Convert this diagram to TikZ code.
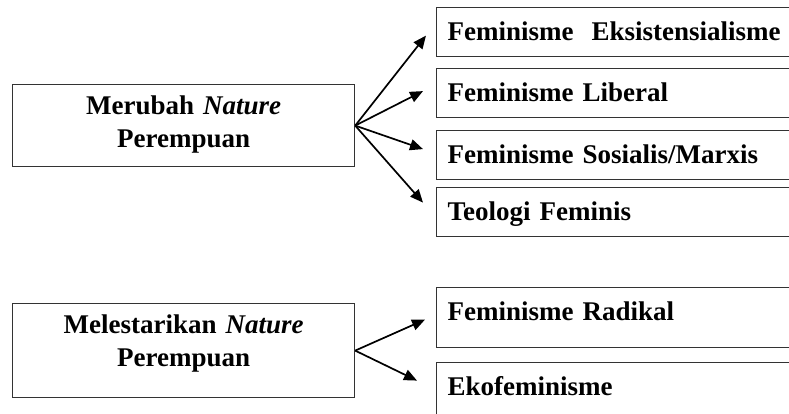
\documentclass[tikz,border=0pt]{standalone}
\usepackage{fontspec}
\setmainfont{Liberation Serif}
\usetikzlibrary{arrows.meta, positioning}

\begin{document}
\begin{tikzpicture}[x=1pt, y=-1pt, >={Triangle[length=13pt, width=11pt]},
    font=\fontsize{27}{33}\selectfont\bfseries,
    rootbox/.style={draw=black!80, line width=1.2pt, anchor=north west,
      text width=318pt, align=center, inner xsep=12pt, inner ysep=12pt,
      text height=18pt},
    catbox/.style={draw=black!80, line width=1.2pt, anchor=north west,
      text width=360pt, align=left, inner xsep=11.5pt, inner ysep=15pt,
      text height=18pt, text depth=1pt},
    link/.style={->, line width=1.7pt}]
  \useasboundingbox (0,0) rectangle (789,413);
  \clip (0,0) rectangle (789,413);

  % kiri
  \node[rootbox, text depth=40pt] (merubah) at (12,84)
    {Merubah \textit{Nature}\\ Perempuan};
  \node[rootbox, text depth=52pt] (lestari) at (12,303)
    {Melestarikan \textit{Nature}\\ Perempuan};

  % kanan
  \node[catbox] (eks) at (435.5,7) {Feminisme\ \ Eksistensialisme};
  \node[catbox] (lib) at (435.5,68) {Feminisme Liberal};
  \node[catbox] (sos) at (435.5,130) {Feminisme Sosialis/Marxis};
  \node[catbox] (teo) at (435.5,187) {Teologi Feminis};
  \node[catbox, text depth=12pt] (rad) at (435.5,287) {Feminisme Radikal};
  \node[catbox, text depth=12pt] (eko) at (435.5,362) {Ekofeminisme};

  \draw[link] (merubah.east) -- ([shift={(-9.5,3.5)}]eks.west);
  \draw[link] (merubah.east) -- ([shift={(-12.5,-2)}]lib.west);
  \draw[link] (merubah.east) -- ([shift={(-12.5,-6)}]sos.west);
  \draw[link] (merubah.east) -- ([shift={(-12.5,-9.5)}]teo.west);

  \draw[link] (lestari.east) -- ([shift={(-10.5,2)}]rad.west);
  \draw[link] (lestari.east) -- ([shift={(-18.5,-12)}]eko.west);
\end{tikzpicture}
\end{document}
